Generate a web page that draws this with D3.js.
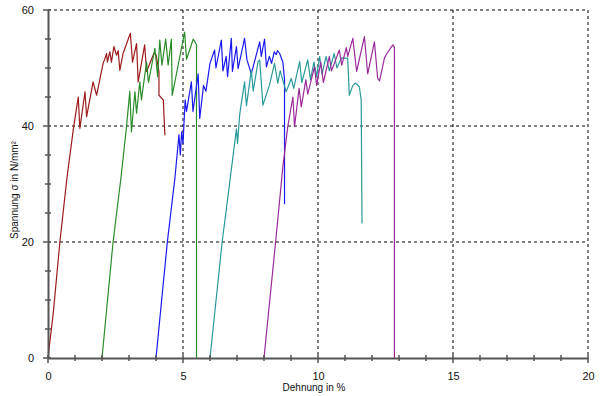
<!DOCTYPE html>
<html>
<head>
<meta charset="utf-8">
<script src="https://cdn.jsdelivr.net/npm/d3@7"></script>
<style>
  body { margin: 0; background: #fff; }
  svg { display: block; font-family: "Liberation Sans", Arial, sans-serif; }
</style>
</head>
<body>
<svg id="chart" width="600" height="396"></svg>
<script>
// strain (%) / stress (N/mm²) pairs, one array per specimen
const probe1 = [[0,0],[0.2,8],[0.44,20],[0.7,31],[0.94,39.5],[1.12,45],[1.18,39.6],[1.37,45.9],[1.43,41.6],
  [1.67,47.6],[1.8,45.3],[2.04,50.8],[2.1,51.5],[2.17,52.5],[2.2,51],[2.29,52.8],[2.35,51],[2.44,53.7],
  [2.54,52.2],[2.6,53],[2.66,49.6],[2.78,52.5],[3.05,56],[3.13,51],[3.28,54.2],[3.34,47.6],[3.58,54],
  [3.65,49.4],[3.92,52.5],[4.0,52.3],[4.11,49.4],[4.11,45.3],[4.27,44.5],[4.33,38.4]];
const probe2 = [[2.0,0],[2.41,20],[2.7,31],[2.9,39.5],[3.03,46],[3.09,39],[3.22,45.9],[3.28,42.2],[3.4,47.6],
  [3.46,44.5],[3.65,51],[3.72,47.5],[3.96,53.4],[4.06,48.5],[4.14,54.8],[4.22,50.5],[4.36,55],[4.45,50.5],
  [4.57,55],[4.6,45.3],[4.8,50],[5.06,56.2],[5.13,51.5],[5.38,55],[5.5,54],[5.5,0]];
const probe3 = [[4.0,0],[4.42,20],[4.7,31],[4.85,38.5],[4.9,35],[4.95,39],[5.0,37],[5.08,44.5],[5.13,42.5],
  [5.31,47.6],[5.37,42.5],[5.56,49],[5.62,41.3],[5.76,47],[5.85,46],[6.0,50.8],[6.17,53.1],[6.22,50],
  [6.42,54.8],[6.48,49.5],[6.6,52],[6.65,48.5],[6.79,55.1],[6.83,49.4],[6.98,53.7],[7.04,49.9],[7.28,55.1],
  [7.37,51.4],[7.53,49],[7.84,54.5],[7.9,52],[8.02,55],[8.09,50.2],[8.2,52],[8.28,50.8],[8.38,52.8],
  [8.45,52.3],[8.5,53],[8.58,52.5],[8.7,51],[8.76,48],[8.76,26.5]];
const probe4 = [[6.0,0],[6.45,20],[6.75,31],[6.98,39.5],[7.02,37],[7.1,42],[7.28,47.6],[7.35,43.5],[7.53,49.6],
  [7.6,46],[7.78,51.1],[7.84,51.4],[7.96,43.6],[8.2,47],[8.39,50.8],[8.51,47.4],[8.6,49.5],[8.82,45.9],
  [9.01,48.2],[9.1,46.5],[9.32,51.1],[9.4,47.5],[9.62,51.4],[9.72,48],[9.85,51],[9.95,48.5],[10.06,52],
  [10.15,49],[10.3,52],[10.42,49.5],[10.6,52.5],[10.7,50],[10.86,51.7],[11.1,51.7],[11.16,45.3],
  [11.29,47],[11.4,47.4],[11.53,46.8],[11.6,44.5],[11.63,23.2]];
const probe5 = [[8.0,0],[8.43,20],[8.7,33],[8.88,39.9],[9.07,45],[9.13,39.9],[9.3,46.5],[9.38,43.3],
  [9.55,48],[9.62,45.5],[9.87,50.2],[9.95,47],[10.1,51],[10.2,47.5],[10.42,52],[10.5,49.5],[10.79,53.1],
  [10.88,50.5],[11.05,53.5],[11.1,52],[11.29,55.1],[11.43,49.4],[11.72,55.4],[11.84,49],[12.09,54.5],
  [12.21,48.2],[12.28,47.8],[12.46,51.7],[12.55,52.5],[12.77,54],[12.83,53.6],[12.83,0]];

const series = [probe1, probe2, probe3, probe4, probe5];
const colors = ['#9b1c1c', '#2a8c2a', '#1a1aee', '#2a9a9a', '#9a2a9a'];

const xTicks = [0, 5, 10, 15, 20];
const yTicks = [0, 20, 40, 60];
const xMinor = d3.range(0, 21, 1);
const yMinor = d3.range(0, 61, 5);

const svg = d3.select('#chart');
const margin = {top: 10, right: 12, bottom: 38, left: 48};
const width = 600 - margin.left - margin.right;
const height = 396 - margin.top - margin.bottom;

const x = d3.scaleLinear().domain([0, 20]).range([0, width]);
const y = d3.scaleLinear().domain([0, 60]).range([height, 0]);

const g = svg.append('g').attr('transform', `translate(${margin.left},${margin.top})`);

// dashed grid
g.selectAll('.gx').data(xTicks.slice(1)).enter()
  .append('line')
    .attr('x1', d => x(d)).attr('x2', d => x(d))
    .attr('y1', 0).attr('y2', height)
    .attr('stroke', '#000').attr('stroke-width', 1)
    .attr('stroke-dasharray', '3,3');

g.selectAll('.gy').data(yTicks.slice(1)).enter()
  .append('line')
    .attr('x1', 0).attr('x2', width)
    .attr('y1', d => y(d)).attr('y2', d => y(d))
    .attr('stroke', '#000').attr('stroke-width', 1)
    .attr('stroke-dasharray', '3,3');

// curves
const line = d3.line().x(d => x(d[0])).y(d => y(d[1]));
g.selectAll('.curve').data(series).enter()
  .append('path')
    .attr('d', line)
    .attr('fill', 'none')
    .attr('stroke', (d, i) => colors[i])
    .attr('stroke-width', 1.2)
    .attr('stroke-linejoin', 'round');

// axes
const axisColor = '#555';

const xAxis = g.append('g').attr('transform', `translate(0,${height})`)
  .call(d3.axisBottom(x).tickValues(xTicks).tickSize(0).tickPadding(14));
const yAxis = g.append('g')
  .call(d3.axisLeft(y).tickValues(yTicks).tickSize(0).tickPadding(14));

[xAxis, yAxis].forEach(a => {
  a.select('.domain').attr('stroke', axisColor).attr('stroke-width', 2);
  a.selectAll('text').attr('font-size', 11).attr('fill', '#111')
    .attr('font-family', '"Liberation Sans", Arial, sans-serif');
});

// minor ticks crossing the axes
g.selectAll('.mx').data(xMinor).enter()
  .append('line')
    .attr('x1', d => x(d)).attr('x2', d => x(d))
    .attr('y1', height - 3).attr('y2', d => xTicks.includes(d) ? height + 5 : height + 3)
    .attr('stroke', axisColor).attr('stroke-width', 1.5);

g.selectAll('.my').data(yMinor).enter()
  .append('line')
    .attr('x1', d => yTicks.includes(d) ? -5 : -3).attr('x2', 3)
    .attr('y1', d => y(d)).attr('y2', d => y(d))
    .attr('stroke', axisColor).attr('stroke-width', 1.5);

// axis titles
svg.append('text')
  .attr('x', margin.left + width / 2 - 4)
  .attr('y', 391)
  .attr('text-anchor', 'middle')
  .attr('font-size', 10)
  .attr('fill', '#111')
  .text('Dehnung in %');

svg.append('text')
  .attr('transform', `translate(18,${margin.top + height / 2 + 6}) rotate(-90)`)
  .attr('text-anchor', 'middle')
  .attr('font-size', 10)
  .attr('fill', '#111')
  .text('Spannung σ in N/mm²');
</script>
</body>
</html>
